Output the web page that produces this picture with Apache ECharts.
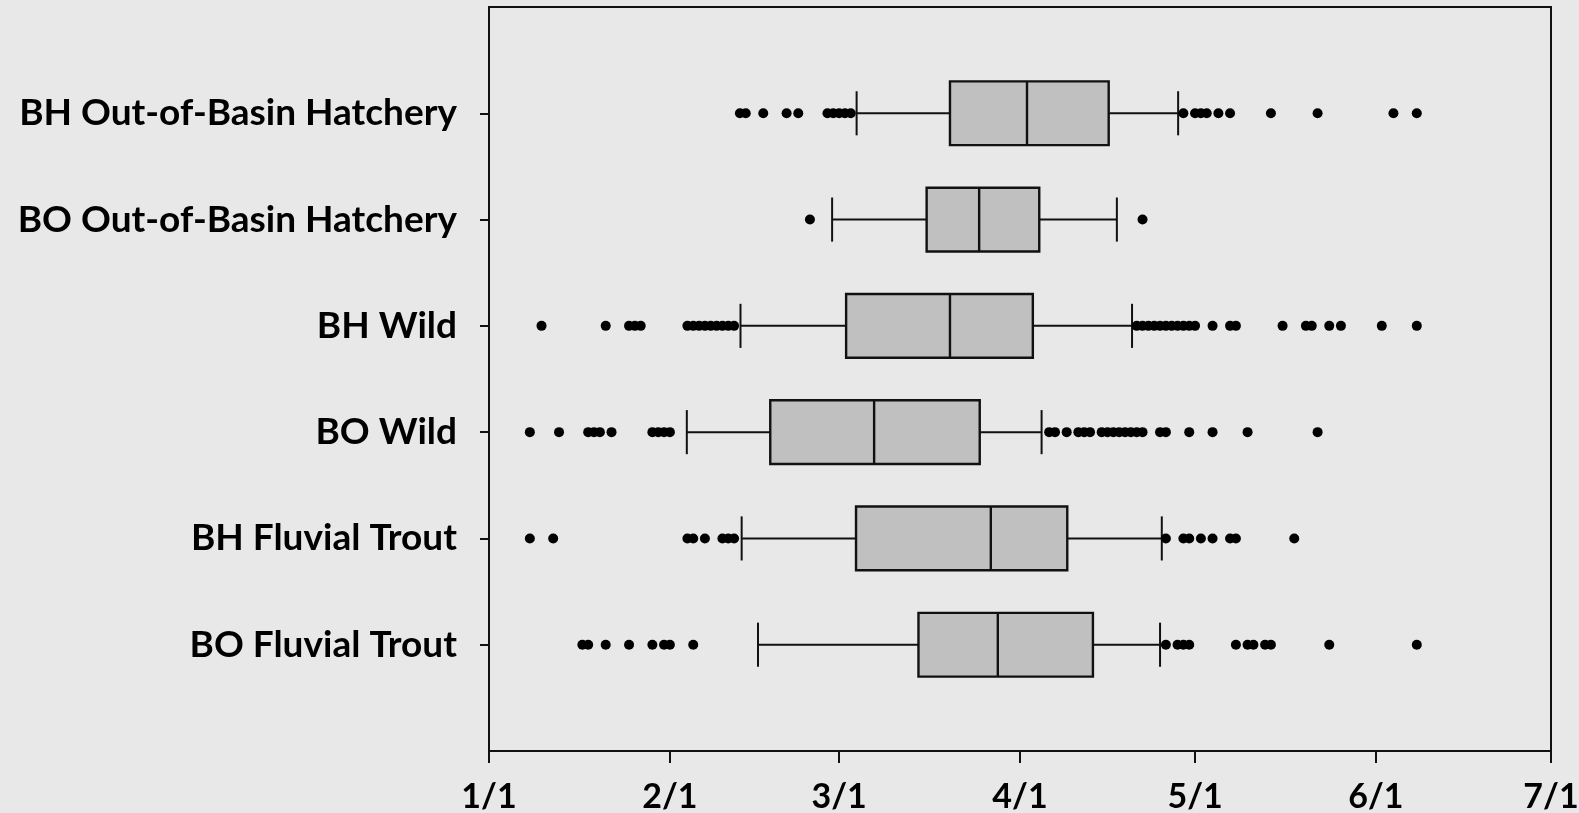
<!DOCTYPE html>
<html>
<head>
<meta charset="utf-8">
<script src="https://cdn.jsdelivr.net/npm/echarts@6/dist/echarts.min.js"></script>
<style>
  html, body { margin: 0; padding: 0; background: #e8e8e8; }
  #chart { width: 1579px; height: 813px; }
</style>
</head>
<body>
<div id="chart"></div>
<script>
// Groups, top to bottom
const categories = [
  'BH Out-of-Basin Hatchery',
  'BO Out-of-Basin Hatchery',
  'BH Wild',
  'BO Wild',
  'BH Fluvial Trout',
  'BO Fluvial Trout'
];

// All values are days after January 1 (leap year)
// Box statistics: [lower whisker, Q1, median, Q3, upper whisker]
const bhOutOfBasin = [63.0, 79.0, 92.2, 106.2, 118.1];
const boOutOfBasin = [58.8, 75.0, 84.0, 94.3, 107.6];
const bhWild       = [43.1, 61.2, 79.0, 93.2, 110.2];
const boWild       = [33.9, 48.2, 66.0, 84.1, 94.7];
const bhFluvial    = [43.3, 62.9, 86.0, 99.1, 115.3];
const boFluvial    = [46.1, 73.6, 87.2, 103.5, 115.0];

// Outliers per group
const bhOutOfBasinOut = [43, 44, 47, 51, 53, 58, 59, 60, 61, 62,
  119, 121, 122, 123, 125, 127, 134, 142, 155, 159];
const boOutOfBasinOut = [55, 112];
const bhWildOut = [9, 20, 24, 25, 26, 34, 35, 36, 37, 38, 39, 40, 41, 42,
  111, 112, 113, 114, 115, 116, 117, 118, 119, 120, 121,
  124, 127, 128, 136, 140, 141, 144, 146, 153, 159];
const boWildOut = [7, 12, 17, 18, 19, 21, 28, 29, 30, 31,
  96, 97, 99, 101, 102, 103, 105, 106, 107, 108, 109, 110, 111, 112,
  115, 116, 120, 124, 130, 142];
const bhFluvialOut = [7, 11, 34, 35, 37, 40, 41, 42,
  116, 119, 120, 122, 124, 127, 128, 138];
const boFluvialOut = [16, 17, 20, 24, 28, 30, 31, 35,
  116, 118, 119, 120, 128, 130, 131, 133, 134, 144, 159];

// Axis ticks: first day of each month, January through July
const tickLabels = ['1/1', '2/1', '3/1', '4/1', '5/1', '6/1', '7/1'];
const YEAR = 2020;
const DAY_MS = 86400000;
const tickDays = tickLabels.map(function (t) {
  const m = parseInt(t.split('/')[0], 10);
  return Math.round((Date.UTC(YEAR, m - 1, 1) - Date.UTC(YEAR, 0, 1)) / DAY_MS);
});

const boxes = [bhOutOfBasin, boOutOfBasin, bhWild, boWild, bhFluvial, boFluvial];
const outliers = [bhOutOfBasinOut, boOutOfBasinOut, bhWildOut, boWildOut, bhFluvialOut, boFluvialOut];

// Category axis padded with an empty slot at each end
const yCats = [''].concat(categories, ['']);

const boxData = boxes.map(function (b, i) { return [i + 1].concat(b); });
const outlierData = [];
outliers.forEach(function (list, i) {
  list.forEach(function (d) { outlierData.push([d, i + 1]); });
});

const FONT = 'Lato, "Open Sans", sans-serif';

function renderBox(params, api) {
  const cat = api.value(0);
  const lo = api.value(1), q1 = api.value(2), med = api.value(3), q3 = api.value(4), hi = api.value(5);
  const band = api.size([0, 1])[1];
  const boxH = band * 0.6;
  const capH = band * 0.415;
  const pLo = api.coord([lo, cat]);
  const pQ1 = api.coord([q1, cat]);
  const pMed = api.coord([med, cat]);
  const pQ3 = api.coord([q3, cat]);
  const pHi = api.coord([hi, cat]);
  const y = pMed[1];
  const lineStyle = { stroke: '#111', lineWidth: 2 };
  return {
    type: 'group',
    children: [
      { type: 'line', shape: { x1: pLo[0], y1: y, x2: pQ1[0], y2: y }, style: lineStyle },
      { type: 'line', shape: { x1: pQ3[0], y1: y, x2: pHi[0], y2: y }, style: lineStyle },
      { type: 'line', shape: { x1: pLo[0], y1: y - capH / 2, x2: pLo[0], y2: y + capH / 2 }, style: lineStyle },
      { type: 'line', shape: { x1: pHi[0], y1: y - capH / 2, x2: pHi[0], y2: y + capH / 2 }, style: lineStyle },
      { type: 'rect', shape: { x: pQ1[0], y: y - boxH / 2, width: pQ3[0] - pQ1[0], height: boxH },
        style: { fill: '#c0c0c0', stroke: '#111', lineWidth: 2.4 } },
      { type: 'line', shape: { x1: pMed[0], y1: y - boxH / 2, x2: pMed[0], y2: y + boxH / 2 },
        style: { stroke: '#111', lineWidth: 2.4 } }
    ]
  };
}

const chart = echarts.init(document.getElementById('chart'));
chart.setOption({
  backgroundColor: '#e8e8e8',
  animation: false,
  grid: {
    left: 489, right: 28, top: 7, bottom: 62,
    outerBoundsMode: 'none',
    containLabel: false,
    show: true, borderColor: '#111', borderWidth: 2, backgroundColor: 'transparent'
  },
  xAxis: {
    type: 'value',
    min: tickDays[0],
    max: tickDays[tickDays.length - 1],
    splitLine: { show: false },
    axisLine: { show: true, lineStyle: { color: '#111', width: 2 } },
    axisTick: { show: true, length: 12, customValues: tickDays, lineStyle: { color: '#111', width: 2 } },
    axisLabel: {
      customValues: tickDays,
      margin: 29,
      color: '#000',
      fontFamily: FONT,
      fontWeight: 'bold',
      fontSize: 34,
      formatter: function (v) { return tickLabels[tickDays.indexOf(v)]; }
    }
  },
  yAxis: {
    type: 'category',
    data: yCats,
    inverse: true,
    boundaryGap: false,
    splitLine: { show: false },
    axisLine: { show: true, lineStyle: { color: '#111', width: 2 } },
    axisTick: {
      show: true, length: 9,
      interval: function (idx) { return idx > 0 && idx < yCats.length - 1; },
      lineStyle: { color: '#111', width: 2 }
    },
    axisLabel: {
      interval: 0,
      margin: 32,
      color: '#000',
      fontFamily: FONT,
      fontWeight: 'bold',
      fontSize: 37
    }
  },
  series: [
    {
      type: 'custom',
      renderItem: renderBox,
      encode: { y: 0, x: [1, 2, 3, 4, 5] },
      data: boxData,
      z: 2
    },
    {
      type: 'scatter',
      data: outlierData,
      symbol: 'circle',
      symbolSize: 10,
      itemStyle: { color: '#000', opacity: 1 },
      z: 3
    }
  ]
});
</script>
</body>
</html>
